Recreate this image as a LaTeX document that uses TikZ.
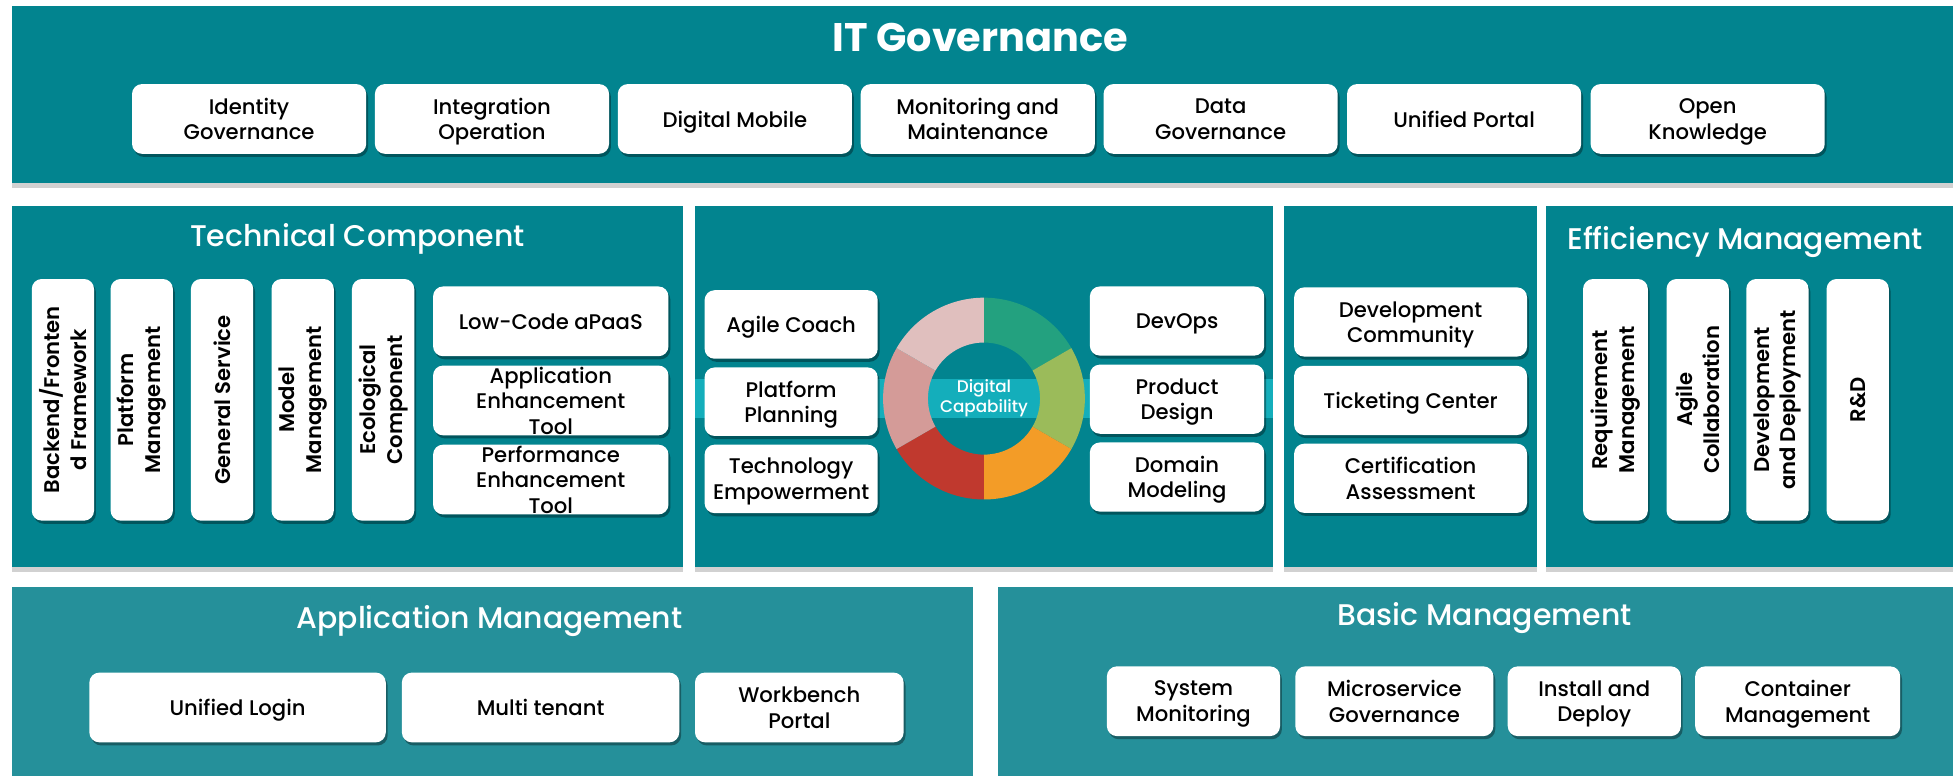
\documentclass[tikz,border=0pt]{standalone}
\usepackage{fontspec}
\setmainfont{Poppins}
\newfontfamily\medfont{Poppins Medium}
\newfontfamily\sbfont{Poppins SemiBold}
\newfontfamily\ttlfont{Poppins Medium}
\usetikzlibrary{shadows}
\definecolor{panelA}{HTML}{02848F}
\definecolor{panelB}{HTML}{25909A}
\definecolor{bandC}{HTML}{14AEBB}
\definecolor{segA}{HTML}{23A17F}
\definecolor{segB}{HTML}{9BBB5A}
\definecolor{segC}{HTML}{F39C27}
\definecolor{segD}{HTML}{C0392E}
\definecolor{segE}{HTML}{D49B98}
\definecolor{segF}{HTML}{E0BFBE}
\tikzset{
  panel/.style={fill=panelA, draw=none, inner sep=0pt,
    drop shadow={shadow xshift=0pt, shadow yshift=-4pt, fill=black, opacity=0.18}},
  panelb/.style={panel, fill=panelB},
  wbox/.style={fill=white, rounded corners=8pt, inner sep=0pt, align=center, text=black,
    text depth=0pt, font=\medfont\fontsize{17}{20.5}\selectfont,
    drop shadow={shadow xshift=1.5pt, shadow yshift=-2.5pt, fill=black, opacity=0.35}},
  vbox/.style={wbox, minimum width=50pt, minimum height=194pt},
  vtext/.style={rotate=90, align=center, text=black, inner sep=0pt,
    font=\sbfont\fontsize{17}{21.5}\selectfont},
  ttl/.style={text=white, inner sep=0pt, font=\ttlfont\fontsize{24}{28}\selectfont},
}
\begin{document}
\begin{tikzpicture}[x=1pt,y=-1pt]
\path[use as bounding box, fill=white] (0,0) rectangle (1568,623);

% ---------- IT Governance ----------
\node[panel, minimum width=1565pt, minimum height=142pt] (itg) at (792,76) {};
\node[text=white, inner sep=0pt, font=\bfseries\fontsize{32}{36}\selectfont] (itgt) at (787,30) {IT Governance};
\foreach \n/\cx/\t in {g1/200/{Identity\\Governance}, g2/395/{Integration\\Operation},
  g3/590/{Digital Mobile}, g4/785/{Monitoring and\\Maintenance}, g5/980/{Data\\Governance},
  g6/1175.5/{Unified Portal}, g7/1371/{Open\\Knowledge}}
  \node[wbox, minimum width=188pt, minimum height=56pt] (\n) at (\cx,95.5) {\t};

% ---------- middle panels ----------
\node[panel, minimum width=538.5pt, minimum height=290pt] (tc) at (278.75,310) {};
\node[panel, minimum width=464.3pt, minimum height=290pt] (dc) at (789.85,310) {};
\node[panel, minimum width=203.5pt, minimum height=290pt] (dv) at (1132.25,310) {};
\node[panel, minimum width=333.4pt, minimum height=290pt] (ef) at (1408.3,310) {};

% Technical Component
\node[ttl] (tct) at (287,192) {Technical Component};
\foreach \n/\cx/\t in {v1/50.5/{Backend/Fronten\\d Framework}, v2/113.8/{Platform\\Management},
  v3/178.3/{General Service}, v4/243/{Model\\Management}, v5/307.6/{Ecological\\Component}}
  {\node[vbox] (\n) at (\cx,321) {};
   \node[vtext] (\n t) at (\n) {\t};}
\node[wbox, minimum width=189pt, minimum height=56pt] (lc) at (442.2,258) {Low-Code aPaaS};
\node[wbox, minimum width=189pt, minimum height=56pt] (ae) at (442.2,321.5) {Application\\Enhancement\\Tool};
\node[wbox, minimum width=189pt, minimum height=56pt] (pe) at (442.2,385) {Performance\\Enhancement\\Tool};

% Digital Capability
\node[fill=bandC, inner sep=0pt, minimum width=464.3pt, minimum height=31.5pt] (band) at (789.85,319.75) {};
\begin{scope}[shift={(790,320)}]
  \foreach \a/\b/\c in {90/30/segA, 30/-30/segB, -30/-90/segC, -90/-150/segD, -150/-210/segE, -210/-270/segF}
    \fill[\c] (\a:81pt) arc[start angle=\a, end angle=\b, radius=81pt]
      -- (\b:45pt) arc[start angle=\b, end angle=\a, radius=45pt] -- cycle;
\end{scope}
\node[text=white, align=center, inner sep=0pt, font=\medfont\fontsize{13.5}{16}\selectfont] (dcap) at (790,320) {Digital\\Capability};
\node[wbox, minimum width=139pt, minimum height=55pt] (ac) at (635.2,260.5) {Agile Coach};
\node[wbox, minimum width=139pt, minimum height=55pt] (pp) at (635.2,322.5) {Platform\\Planning};
\node[wbox, minimum width=139pt, minimum height=55pt] (te) at (635.2,384.5) {Technology\\Empowerment};
\node[wbox, minimum width=140pt, minimum height=55.5pt] (do) at (945,257.75) {DevOps};
\node[wbox, minimum width=140pt, minimum height=55.5pt] (pd) at (945,320.5) {Product\\Design};
\node[wbox, minimum width=140pt, minimum height=55.5pt] (dm) at (945,383) {Domain\\Modeling};

% Development column
\node[wbox, minimum width=187pt, minimum height=55.5pt] (dvc) at (1132.5,258.5) {Development\\Community};
\node[wbox, minimum width=187pt, minimum height=55.5pt] (tk) at (1132.5,321.5) {Ticketing Center};
\node[wbox, minimum width=187pt, minimum height=55.5pt] (ca) at (1132.5,384) {Certification\\Assessment};

% Efficiency Management
\node[ttl] (eft) at (1401,194) {Efficiency Management};
\node[vbox, minimum width=52pt] (e1) at (1297,321) {};
\node[vtext] (e1t) at (e1) {Requirement\\Management};
\foreach \n/\cx/\t in {e2/1363/{Agile\\Collaboration}, e3/1427/{Development\\and Deployment}, e4/1491.5/{R\&D}}
  {\node[vbox] (\n) at (\cx,321) {};
   \node[vtext] (\n t) at (\n) {\t};}

% ---------- bottom panels ----------
\node[panelb, minimum width=771pt, minimum height=158pt] (am) at (395.5,550) {};
\node[panelb, minimum width=774pt, minimum height=158pt] (bm) at (1188,550) {};
\node[ttl] (amt) at (393,499) {Application Management};
\node[ttl] (bmt) at (1192,496) {Basic Management};
\node[wbox, minimum width=238pt, minimum height=56pt] (ul) at (190.75,568) {Unified Login};
\node[wbox, minimum width=222.7pt, minimum height=56pt] (mt) at (434,568) {Multi tenant};
\node[wbox, minimum width=167.5pt, minimum height=56pt] (wp) at (641.75,568) {Workbench\\Portal};
\node[wbox, minimum width=139pt, minimum height=56pt] (sm) at (958.2,563) {System\\Monitoring};
\node[wbox, minimum width=159pt, minimum height=56pt] (mg) at (1119.5,563) {Microservice\\Governance};
\node[wbox, minimum width=139pt, minimum height=56pt] (id) at (1280,563) {Install and\\Deploy};
\node[wbox, minimum width=164.6pt, minimum height=56pt] (cm) at (1443.3,563) {Container\\Management};
\end{tikzpicture}
\end{document}
